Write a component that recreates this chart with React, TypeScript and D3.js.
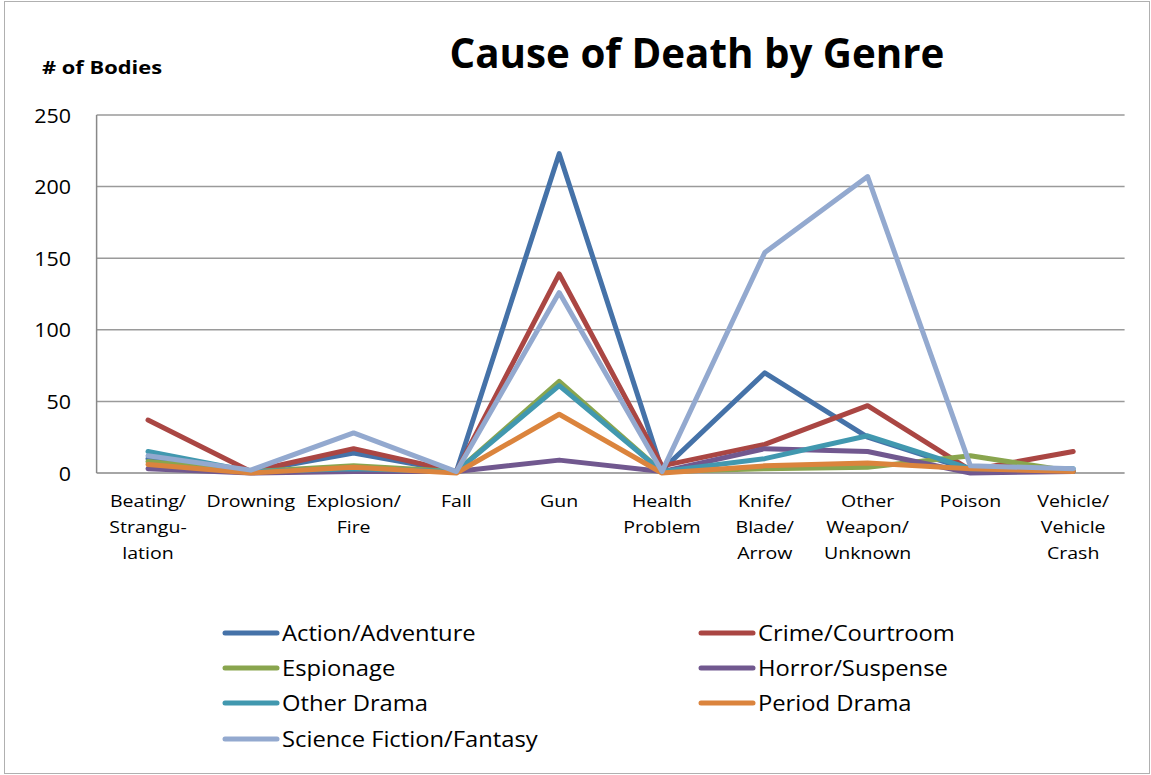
import React from "react";
import * as d3 from "d3";

const categories: string[][] = [
  ["Beating/", "Strangu-", "lation"],
  ["Drowning"],
  ["Explosion/", "Fire"],
  ["Fall"],
  ["Gun"],
  ["Health", "Problem"],
  ["Knife/", "Blade/", "Arrow"],
  ["Other", "Weapon/", "Unknown"],
  ["Poison"],
  ["Vehicle/", "Vehicle", "Crash"],
];

const seriesNames = [
  "Action/Adventure",
  "Crime/Courtroom",
  "Espionage",
  "Horror/Suspense",
  "Other Drama",
  "Period Drama",
  "Science Fiction/Fantasy",
];

const actionAdventure = [10, 1, 14, 1, 223, 2, 70, 25, 2, 1];
const crimeCourtroom = [37, 1, 17, 1, 139, 5, 20, 47, 2, 15];
const espionage = [8, 1, 5, 1, 64, 1, 3, 4, 12, 1];
const horrorSuspense = [3, 0, 1, 1, 9, 1, 17, 15, 0, 1];
const otherDrama = [15, 1, 3, 1, 61, 1, 10, 26, 3, 3];
const periodDrama = [6, 0, 4, 0, 41, 0, 5, 7, 3, 1];
const sciFiFantasy = [12, 2, 28, 1, 126, 1, 154, 207, 5, 3];

const seriesValues = [
  actionAdventure,
  crimeCourtroom,
  espionage,
  horrorSuspense,
  otherDrama,
  periodDrama,
  sciFiFantasy,
];

const colors = ["#4572A8", "#AA4643", "#89A54E", "#71588F", "#4198AF", "#DB843D", "#93A9CF"];

const yTicks = [0, 50, 100, 150, 200, 250];

const FONT = "'Open Sans', Lato, sans-serif";

export default function App() {
  const W = 1151;
  const H = 775;
  const left = 96.6;
  const right = 1124.6;
  const top = 115;
  const bottom = 473;

  const x = d3
    .scaleBand<number>()
    .domain(d3.range(categories.length))
    .range([left, right]);
  const cx = (i: number) => (x(i) as number) + x.bandwidth() / 2;
  const y = d3.scaleLinear().domain([0, 250]).range([bottom, top]);

  const line = d3
    .line<number>()
    .x((_, i) => cx(i))
    .y((d) => y(d));

  const legendPos = [
    [222, 633],
    [698, 633],
    [222, 668],
    [698, 668],
    [222, 703],
    [698, 703],
    [222, 739],
  ];

  return (
    <svg
      width={W}
      height={H}
      style={{ position: "absolute", left: 0, top: 0, background: "#fff" }}
      fontFamily={FONT}
    >
      <rect x={4.5} y={1.5} width={1145} height={772} fill="#fff" stroke="#b0b0b0" strokeWidth={1} />
      <text
        transform="translate(697,52) scale(0.96,1)"
        textAnchor="middle"
        dominantBaseline="central"
        fontSize={42}
        fontWeight="bold"
        fill="#000"
      >
        Cause of Death by Genre
      </text>
      <text
        transform="translate(42,67) scale(1.25,1)"
        dominantBaseline="central"
        fontSize={17.5}
        fontWeight="bold"
        fill="#000"
      >
        # of Bodies
      </text>
      {yTicks.map((t) => (
        <g key={t}>
          {t > 0 && (
            <line x1={left} x2={right} y1={y(t)} y2={y(t)} stroke="#9a9a9a" strokeWidth={1.5} />
          )}
          <text
            transform={`translate(71,${y(t)}) scale(1.1,1)`}
            textAnchor="end"
            dominantBaseline="central"
            fontSize={19.5}
            fill="#000"
          >
            {t}
          </text>
        </g>
      ))}
      <line x1={left} x2={left} y1={top} y2={bottom} stroke="#888" strokeWidth={1.5} />
      <line x1={left} x2={right} y1={bottom} y2={bottom} stroke="#888" strokeWidth={1.5} />
      {categories.map((lines, i) => (
        <g key={i} transform={`translate(${cx(i)},0) scale(1.15,1)`}>
          <text textAnchor="middle" fontSize={17} fill="#000">
            {lines.map((l, j) => (
              <tspan key={j} x={0} y={500 + j * 26} dominantBaseline="central">
                {l}
              </tspan>
            ))}
          </text>
        </g>
      ))}
      {seriesValues.map((vals, s) => (
        <path
          key={s}
          d={line(vals) as string}
          fill="none"
          stroke={colors[s]}
          strokeWidth={5}
          strokeLinejoin="round"
          strokeLinecap="round"
        />
      ))}
      {seriesNames.map((name, s) => {
        const [lx, ly] = legendPos[s];
        return (
          <g key={name}>
            <line x1={lx + 3} x2={lx + 55} y1={ly} y2={ly} stroke={colors[s]} strokeWidth={5} strokeLinecap="round" />
            <text
              transform={`translate(${lx + 60},${ly}) scale(1.08,1)`}
              dominantBaseline="central"
              fontSize={22}
              fill="#000"
            >
              {name}
            </text>
          </g>
        );
      })}
    </svg>
  );
}
